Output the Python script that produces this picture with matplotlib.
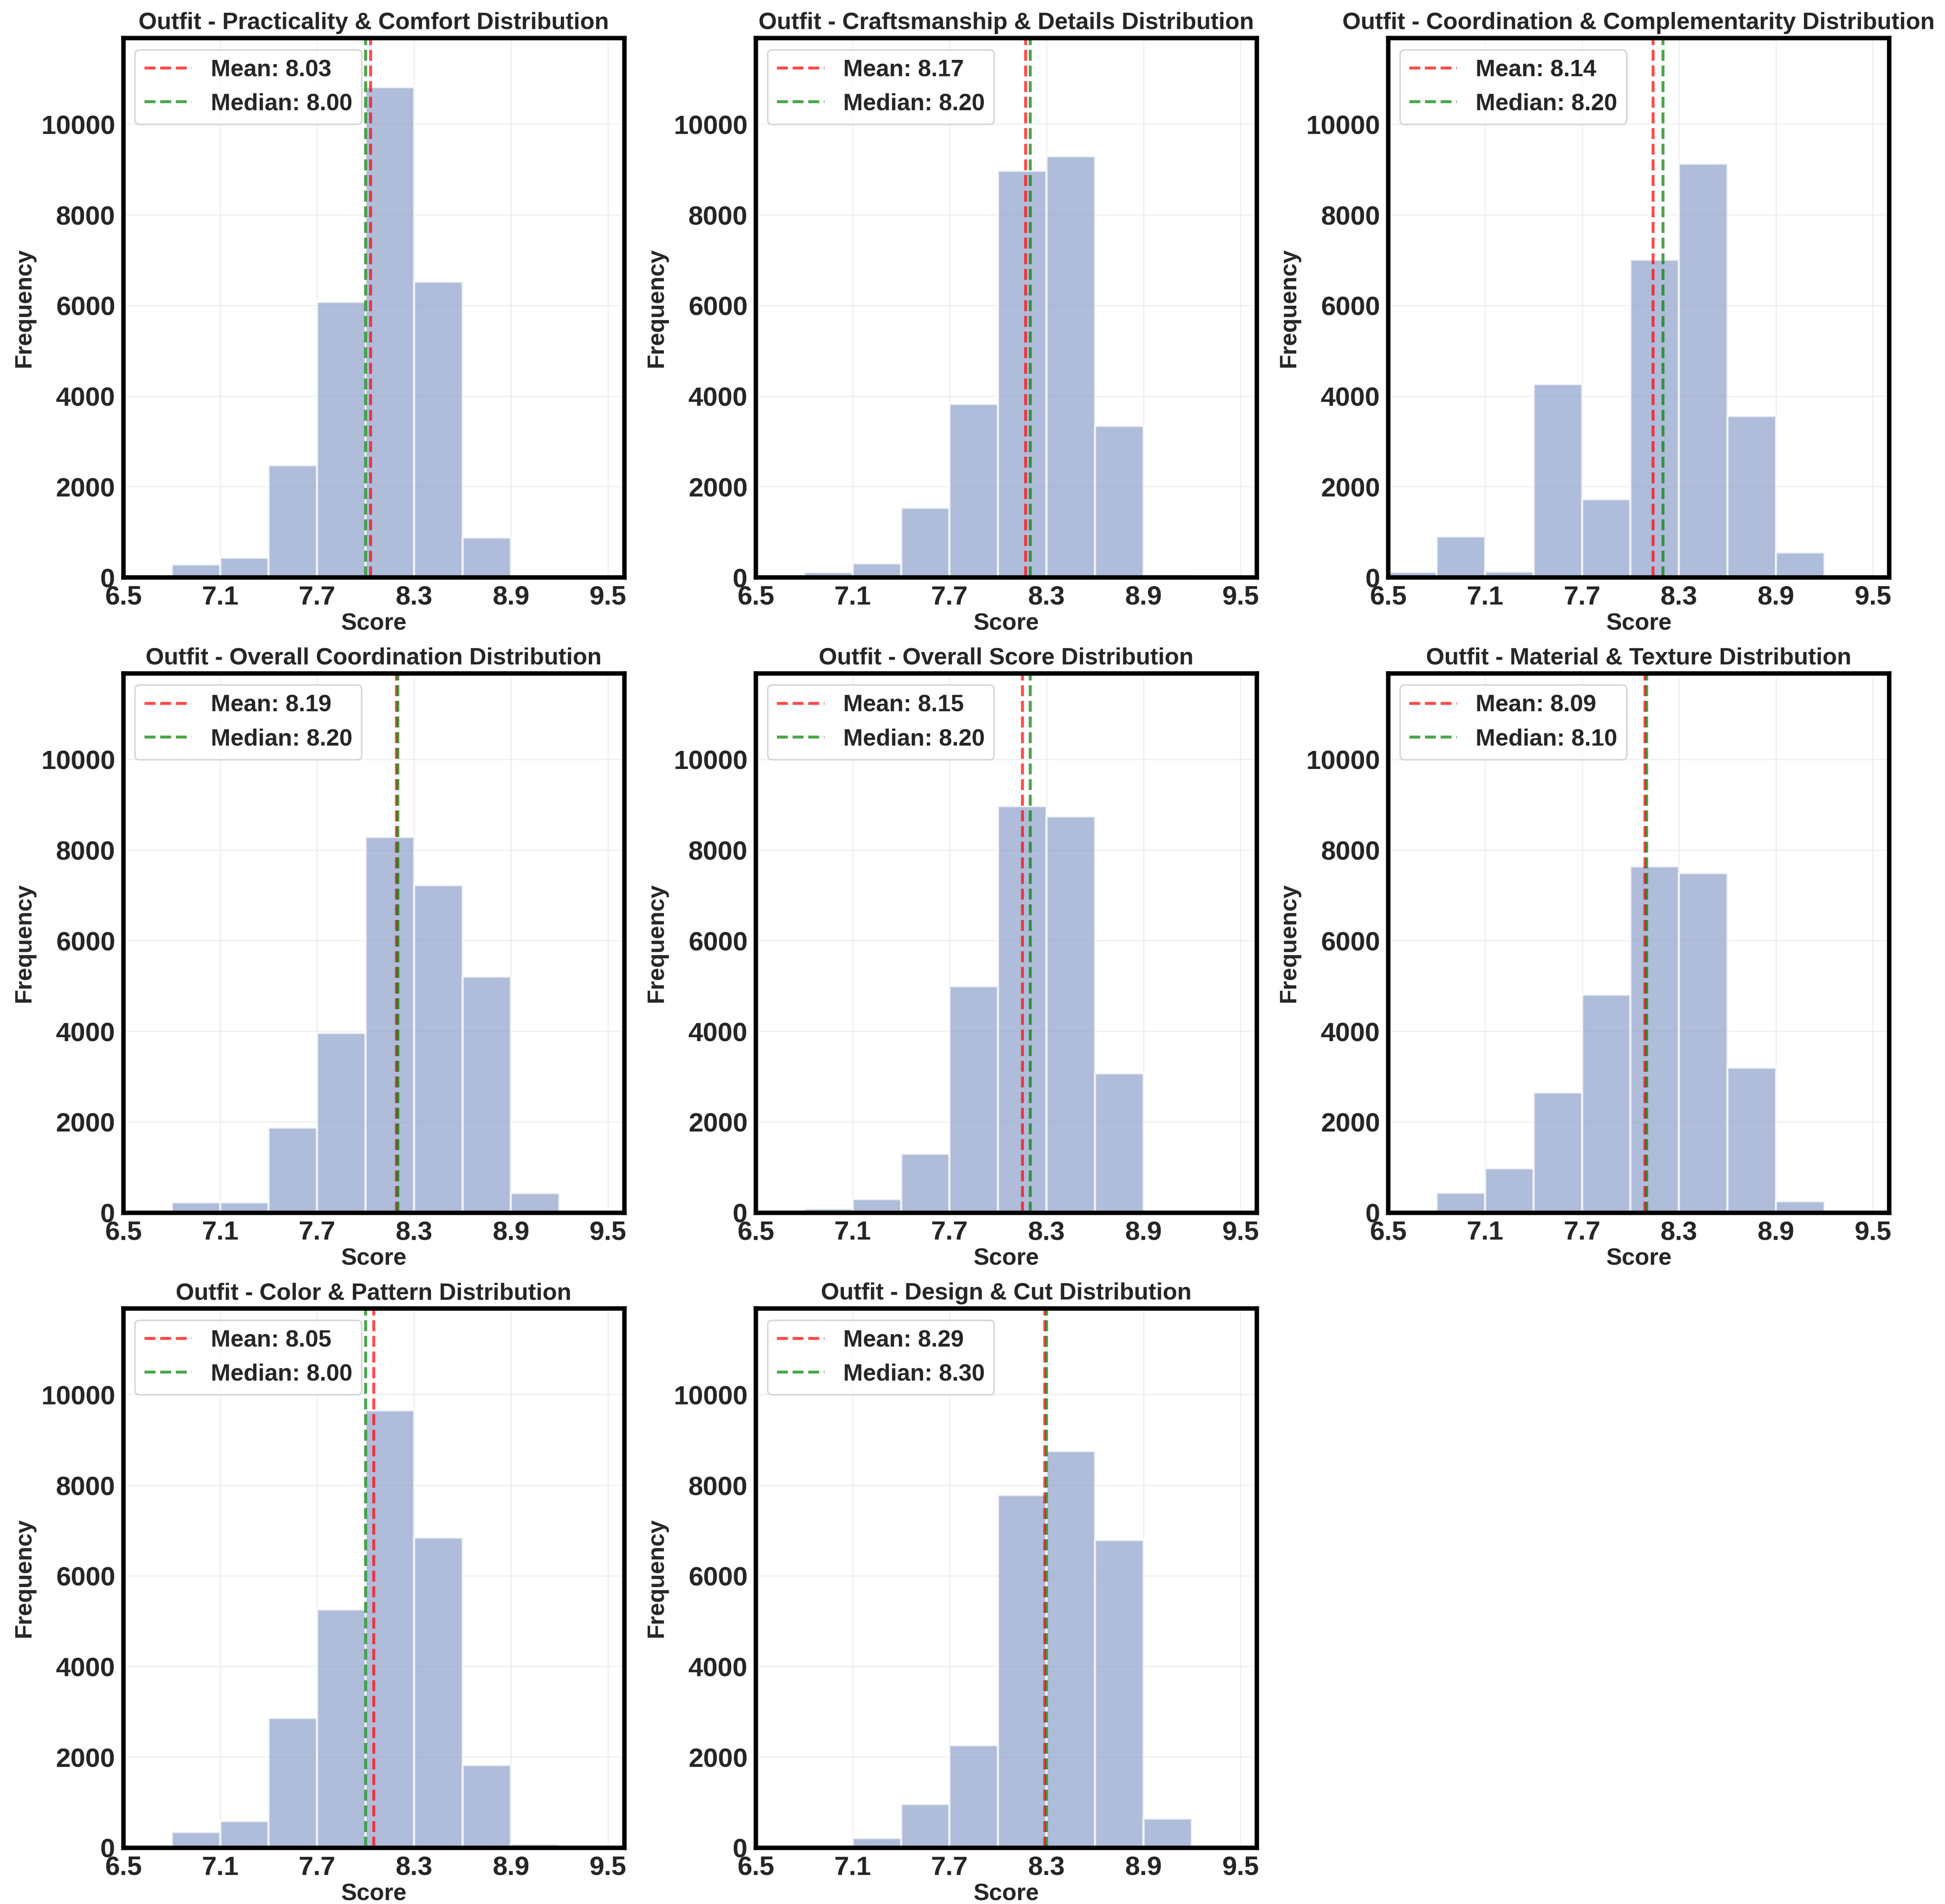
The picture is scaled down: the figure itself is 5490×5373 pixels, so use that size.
"""Outfit score distributions: one histogram panel per rating dimension."""

import matplotlib

matplotlib.use("Agg")
import matplotlib.pyplot as plt
import numpy as np
import seaborn as sns

sns.set_style("whitegrid")
plt.rcParams["font.family"] = ["Liberation Sans", "DejaVu Sans"]
plt.rcParams["font.weight"] = "bold"
plt.rcParams["axes.titleweight"] = "bold"
plt.rcParams["axes.labelweight"] = "bold"
plt.rcParams["xtick.labelsize"] = 18
plt.rcParams["ytick.labelsize"] = 18

TITLES = [
    "Outfit - Practicality & Comfort Distribution",
    "Outfit - Craftsmanship & Details Distribution",
    "Outfit - Coordination & Complementarity Distribution",
    "Outfit - Overall Coordination Distribution",
    "Outfit - Overall Score Distribution",
    "Outfit - Material & Texture Distribution",
    "Outfit - Color & Pattern Distribution",
    "Outfit - Design & Cut Distribution",
]

# histogram bin edges (score) and counts per bin
BIN_EDGES = [6.5, 6.8, 7.1, 7.4, 7.7, 8.0, 8.3, 8.6, 8.9, 9.2, 9.5]
COUNTS = [
    [0, 285, 432, 2472, 6075, 10818, 6526, 873, 0, 0],
    [0, 110, 303, 1535, 3824, 8971, 9292, 3336, 55, 0],
    [120, 901, 129, 4265, 1719, 7004, 9127, 3557, 551, 0],
    [0, 221, 221, 1877, 3965, 8289, 7222, 5207, 423, 0],
    [0, 83, 294, 1297, 4995, 8970, 8740, 3073, 0, 0],
    [0, 432, 975, 2649, 4802, 7636, 7489, 3192, 248, 0],
    [0, 344, 588, 2860, 5258, 9647, 6842, 1819, 81, 0],
    [0, 54, 208, 959, 2262, 7783, 8751, 6787, 643, 0],
]
MEANS = [8.03, 8.17, 8.14, 8.19, 8.15, 8.09, 8.05, 8.29]
MEDIANS = [8.00, 8.20, 8.20, 8.20, 8.20, 8.10, 8.00, 8.30]
X_TICKS = [6.5, 7.1, 7.7, 8.3, 8.9, 9.5]

BAR_COLOR = "#8da0cb"
TEXT_COLOR = "#262626"

fig, axes = plt.subplots(3, 3, figsize=(18.3, 17.91))
fig.subplots_adjust(left=0.0634, right=0.9712, top=0.980, bottom=0.0296,
                    wspace=0.263, hspace=0.178)
axes = axes.flatten()
y_top = max(max(c) for c in COUNTS) * 1.1
centers = np.array(BIN_EDGES[:-1]) + 0.15

for ax, title, counts, mean, median in zip(axes, TITLES, COUNTS, MEANS, MEDIANS):
    ax.hist(centers, bins=BIN_EDGES, weights=counts, color=BAR_COLOR, alpha=0.7,
            edgecolor="white", linewidth=1.5)
    ax.axvline(mean, color="red", linestyle="--", linewidth=2, alpha=0.7,
               label=f"Mean: {mean:.2f}")
    ax.axvline(median, color="green", linestyle="--", linewidth=2, alpha=0.7,
               label=f"Median: {median:.2f}")
    ax.set_title(title, fontsize=16, color=TEXT_COLOR, pad=6)
    ax.set_xlabel("Score", fontsize=16, color=TEXT_COLOR, labelpad=2)
    ax.set_ylabel("Frequency", fontsize=16, color=TEXT_COLOR)
    ax.set_xlim(6.5, 9.6)
    ax.set_ylim(0, y_top)
    ax.set_xticks(X_TICKS)
    ax.tick_params(colors=TEXT_COLOR, pad=2)
    ax.grid(True, alpha=0.3)
    for spine in ax.spines.values():
        spine.set_color("black")
        spine.set_linewidth(3)
    leg = ax.legend(loc="upper left", prop={"weight": "bold", "size": 16})
    for text in leg.get_texts():
        text.set_color(TEXT_COLOR)

axes[-1].remove()
fig.savefig("out.png", dpi=300)
